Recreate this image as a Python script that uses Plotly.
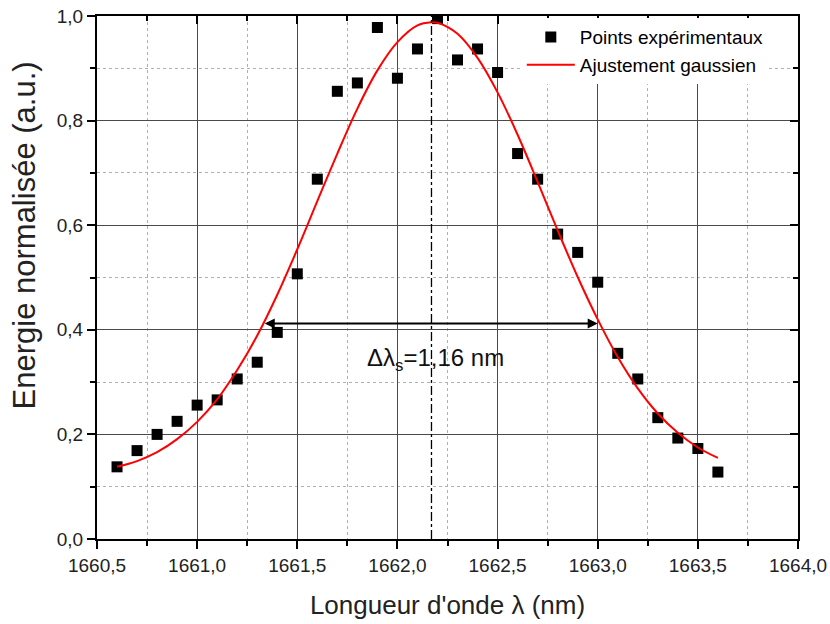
import plotly.graph_objects as go

# donnees
lam_exp = [1660.6, 1660.7, 1660.8, 1660.9, 1661.0, 1661.1, 1661.2, 1661.3, 1661.4, 1661.5,
           1661.6, 1661.7, 1661.8, 1661.9, 1662.0, 1662.1, 1662.2, 1662.3, 1662.4, 1662.5,
           1662.6, 1662.7, 1662.8, 1662.9, 1663.0, 1663.1, 1663.2, 1663.3, 1663.4, 1663.5, 1663.6]
E_exp = [0.138, 0.169, 0.200, 0.225, 0.256, 0.266, 0.306, 0.338, 0.395, 0.507,
         0.688, 0.856, 0.872, 0.978, 0.881, 0.937, 0.995, 0.916, 0.937, 0.892,
         0.737, 0.688, 0.583, 0.548, 0.491, 0.355, 0.306, 0.232, 0.193, 0.173, 0.128]

lam_fit = [1660.6, 1660.7, 1660.8, 1660.9, 1661.0, 1661.1, 1661.2, 1661.3, 1661.4, 1661.5,
           1661.6, 1661.7, 1661.8, 1661.9, 1662.0, 1662.1, 1662.17, 1662.2, 1662.3, 1662.4,
           1662.5, 1662.6, 1662.7, 1662.8, 1662.9, 1663.0, 1663.1, 1663.2, 1663.3, 1663.4,
           1663.5, 1663.6]
E_fit = [0.138, 0.149, 0.166, 0.191, 0.224, 0.267, 0.323, 0.389, 0.467, 0.554,
         0.646, 0.737, 0.823, 0.896, 0.950, 0.982, 0.988, 0.987, 0.966, 0.920,
         0.854, 0.773, 0.683, 0.590, 0.501, 0.420, 0.348, 0.288, 0.240, 0.203,
         0.175, 0.155]

lam_centre = 1662.17
fwhm_left, fwhm_right, fwhm_y = 1661.33, 1663.0, 0.412

FONT = "Liberation Sans, Arial, sans-serif"

fig = go.Figure()
fig.add_trace(go.Scatter(x=lam_exp, y=E_exp, mode="markers", name="Points expérimentaux",
                         marker=dict(symbol="square", size=11, color="black")))
fig.add_trace(go.Scatter(x=lam_fit, y=E_fit, mode="lines", name="Ajustement gaussien",
                         line=dict(color="#ff0000", width=2, shape="spline")))
# trace invisible pour les axes du haut / droite
fig.add_trace(go.Scatter(x=[1660.5], y=[0], xaxis="x2", yaxis="y2", mode="markers",
                         marker=dict(opacity=0), showlegend=False, hoverinfo="skip"))

# ligne verticale tiret-point au centre
fig.add_shape(type="line", x0=lam_centre, x1=lam_centre, y0=0, y1=1,
              line=dict(color="black", width=1.3, dash="dashdot"))

# fleche double largeur a mi-hauteur
fig.add_annotation(x=fwhm_right, y=fwhm_y, ax=fwhm_left, ay=fwhm_y, axref="x", ayref="y",
                   xref="x", yref="y", text="", showarrow=True, arrowhead=2, arrowsize=1,
                   arrowwidth=2, arrowcolor="black", arrowside="end+start")
fig.add_annotation(x=1662.19, y=0.344, xref="x", yref="y", showarrow=False,
                   text="Δλ<sub>s</sub>=1,16 nm", font=dict(size=24, color="#111", family=FONT))

# titre de l'axe y (un peu decale vers le haut comme l'original)
fig.add_annotation(x=-0.103, y=0.58, xref="paper", yref="paper", showarrow=False,
                   text="Energie normalisée (a.u.)", textangle=-90,
                   xanchor="center", yanchor="middle",
                   font=dict(size=31, color="#222", family=FONT))

axis_common = dict(showline=True, linewidth=2, linecolor="black", mirror=True, automargin=False,
                   ticks="outside", ticklen=8, tickwidth=2, tickcolor="black",
                   showgrid=True, gridcolor="#4a4a4a", gridwidth=1, zeroline=False,
                   tickfont=dict(size=19, color="#222", family=FONT))

fig.update_layout(
    width=830, height=624,
    margin=dict(l=97, r=32, t=16, b=85),
    paper_bgcolor="white", plot_bgcolor="white",
    separators=", ",
    font=dict(family=FONT, color="black"),
    xaxis=dict(range=[1660.5, 1664.0], tick0=1660.5, dtick=0.5, tickformat=".1f",
               title=dict(text="Longueur d'onde λ (nm)", font=dict(size=26, color="#222"), standoff=21),
               minor=dict(dtick=0.25, ticks="outside", ticklen=5, tickwidth=1.5, tickcolor="black",
                          showgrid=True, gridcolor="#b0b0b0", griddash="dot", gridwidth=1),
               **axis_common),
    yaxis=dict(range=[0, 1.0], tick0=0, dtick=0.2, tickformat=".1f",
               minor=dict(dtick=0.1, ticks="outside", ticklen=5, tickwidth=1.5, tickcolor="black",
                          showgrid=True, gridcolor="#b0b0b0", griddash="dot", gridwidth=1),
               **axis_common),
    xaxis2=dict(overlaying="x", side="top", range=[1660.5, 1664.0], tick0=1660.5, dtick=0.5,
                ticks="inside", ticklen=8, tickwidth=2, tickcolor="black", showticklabels=False,
                showgrid=False, zeroline=False, automargin=False,
                minor=dict(dtick=0.25, ticks="inside", ticklen=5, tickwidth=1.5, tickcolor="black")),
    yaxis2=dict(overlaying="y", side="right", range=[0, 1.0], tick0=0, dtick=0.2,
                ticks="inside", ticklen=8, tickwidth=2, tickcolor="black", showticklabels=False,
                showgrid=False, zeroline=False, automargin=False,
                minor=dict(dtick=0.1, ticks="inside", ticklen=5, tickwidth=1.5, tickcolor="black")),
    legend=dict(x=0.606, y=0.996, xanchor="left", yanchor="top", bgcolor="white",
                font=dict(size=19, color="black", family=FONT), tracegroupgap=0,
                itemwidth=48),
)

# pas de marge autour de la page, pas de barre d'outils
fig.write_html("out.html", config={"displayModeBar": False},
               post_script="document.body.style.margin='0';")
